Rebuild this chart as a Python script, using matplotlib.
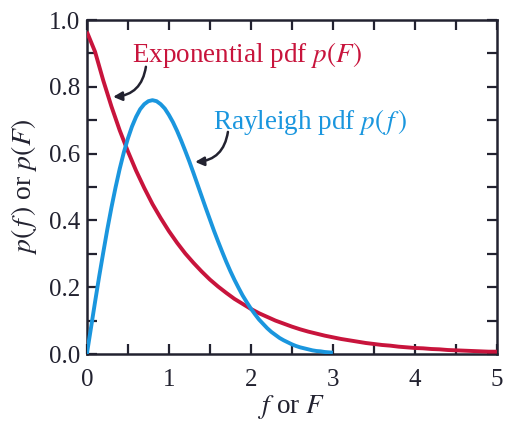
import matplotlib
matplotlib.use("Agg")
import matplotlib.pyplot as plt
from matplotlib.ticker import MultipleLocator

# Exponential pdf p(F), sampled every 0.1 from 0 to 5
exp_x = [i / 10 for i in range(51)]
exp_y = [0.965, 0.905, 0.819, 0.741, 0.670, 0.607, 0.549, 0.497, 0.449, 0.407,
         0.368, 0.333, 0.301, 0.273, 0.247, 0.223, 0.202, 0.183, 0.165, 0.150,
         0.135, 0.122, 0.111, 0.100, 0.091, 0.082, 0.074, 0.067, 0.061, 0.055,
         0.050, 0.045, 0.041, 0.037, 0.033, 0.030, 0.027, 0.025, 0.022, 0.020,
         0.018, 0.017, 0.015, 0.014, 0.012, 0.011, 0.010, 0.009, 0.008, 0.007,
         0.007]

# Rayleigh pdf p(f), sampled every 0.05 from 0 to 3
ray_x = [i / 20 for i in range(61)]
ray_y = [0.000, 0.078, 0.156, 0.232, 0.304, 0.374, 0.439, 0.499, 0.554, 0.603,
         0.645, 0.681, 0.710, 0.733, 0.748, 0.757, 0.760, 0.757, 0.748, 0.735,
         0.716, 0.694, 0.668, 0.639, 0.608, 0.576, 0.542, 0.507, 0.472, 0.437,
         0.403, 0.369, 0.337, 0.306, 0.276, 0.248, 0.222, 0.198, 0.175, 0.155,
         0.136, 0.119, 0.103, 0.090, 0.077, 0.066, 0.057, 0.048, 0.041, 0.035,
         0.029, 0.024, 0.020, 0.017, 0.014, 0.011, 0.009, 0.008, 0.006, 0.005,
         0.004]

x_ticks = [0, 1, 2, 3, 4, 5]
y_ticks = [0.0, 0.2, 0.4, 0.6, 0.8, 1.0]

plt.rcParams['font.family'] = ['Liberation Serif', 'DejaVu Serif']
plt.rcParams['mathtext.fontset'] = 'stix'

RED = '#c8143c'
BLUE = '#1a96de'
INK = '#222230'

fig = plt.figure(figsize=(5.05, 4.26), dpi=100)
ax = fig.add_axes([0.172, 0.169, 0.812, 0.784])

ax.plot(exp_x, exp_y, color=RED, lw=2.8, solid_capstyle='butt', zorder=3)
ax.plot(ray_x, ray_y, color=BLUE, lw=2.8, solid_capstyle='butt', zorder=4)

ax.set_xlim(0, 5)
ax.set_ylim(0, 1.0)
ax.set_xticks(x_ticks)
ax.set_xticklabels([str(v) for v in x_ticks])
ax.set_yticks(y_ticks)
ax.set_yticklabels([f"{v:.1f}" for v in y_ticks])
ax.xaxis.set_minor_locator(MultipleLocator(0.5))
ax.yaxis.set_minor_locator(MultipleLocator(0.1))
ax.tick_params(which='both', direction='in', top=True, right=True,
               length=7, width=1.6, color=INK, labelsize=18,
               labelcolor=INK)
ax.tick_params(axis='x', pad=11)
ax.tick_params(axis='y', pad=5)
for s in ax.spines.values():
    s.set_linewidth(1.8)
    s.set_color(INK)

ax.set_xlabel(r"$f$ or $F$", fontsize=19.5, color=INK, labelpad=1)
ax.set_ylabel(r"$p(\,f\,)$ or $p(F)$", fontsize=20, color=INK, labelpad=7)

ax.text(0.55, 0.895, r"Exponential pdf $p(F)$", color=RED, fontsize=19.5,
        va='center', ha='left')
ax.text(1.54, 0.695, r"Rayleigh pdf $p(\,f\,)$", color=BLUE, fontsize=19.5,
        va='center', ha='left')

ax.annotate("", xy=(0.32, 0.77), xytext=(0.72, 0.86),
            arrowprops=dict(arrowstyle='-|>', color=INK, lw=1.8,
                            mutation_scale=13,
                            connectionstyle='arc3,rad=-0.4',
                            shrinkA=0, shrinkB=0))
ax.annotate("", xy=(1.32, 0.575), xytext=(1.72, 0.665),
            arrowprops=dict(arrowstyle='-|>', color=INK, lw=1.8,
                            mutation_scale=13,
                            connectionstyle='arc3,rad=-0.4',
                            shrinkA=0, shrinkB=0))

fig.savefig("out.png", dpi=100)
